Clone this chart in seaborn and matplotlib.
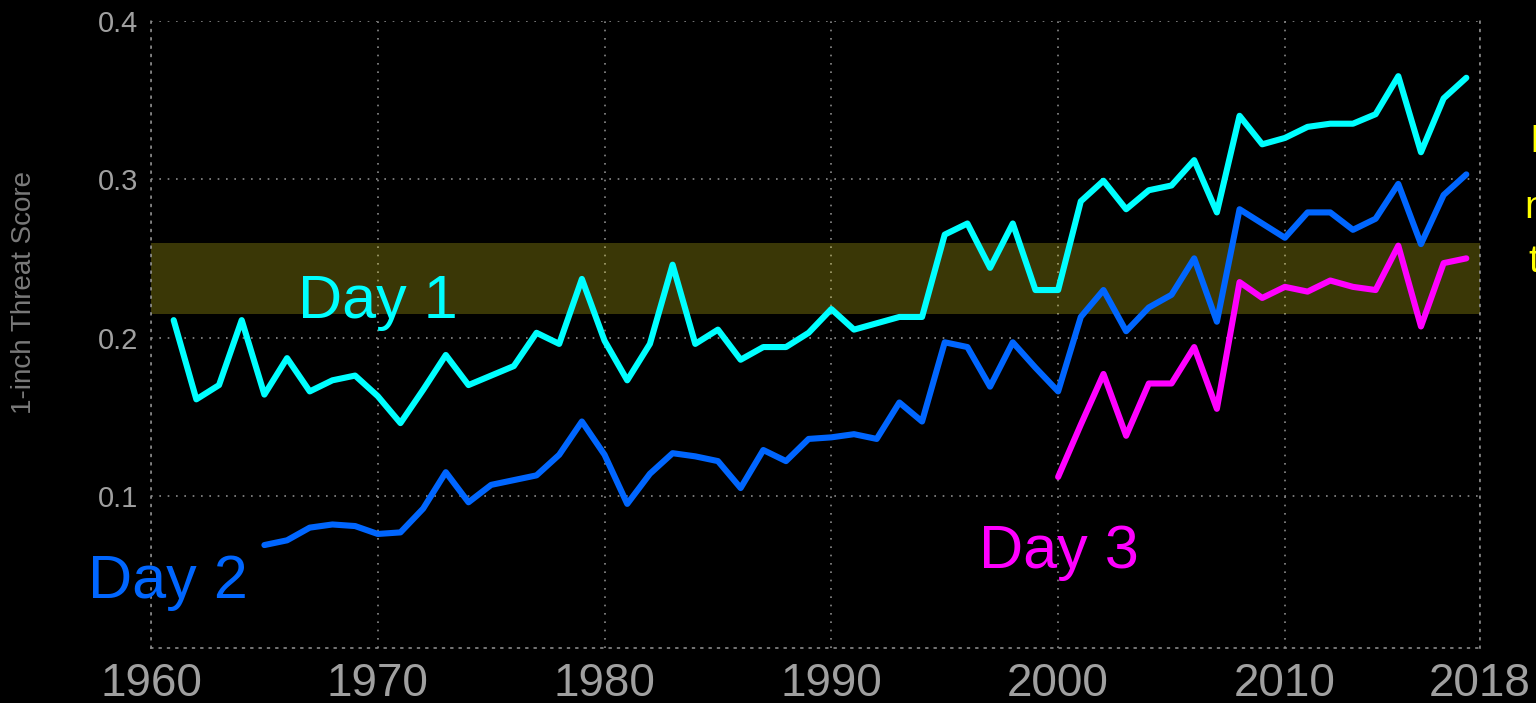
# Threat score trend for 1-inch precipitation, Day 1/2/3 forecasts

import numpy as np
import pandas as pd
import matplotlib
matplotlib.use("Agg")
import matplotlib.pyplot as plt
import seaborn as sns

# DATA

day1_years = list(range(1961, 2019))
day1_ts = [0.211, 0.161, 0.170, 0.211, 0.164, 0.187, 0.166, 0.173, 0.176, 0.163,
           0.146, 0.167, 0.189, 0.170, 0.176, 0.182, 0.203, 0.196, 0.237, 0.198,
           0.173, 0.196, 0.246, 0.196, 0.205, 0.186, 0.194, 0.194, 0.203, 0.218,
           0.205, 0.209, 0.213, 0.213, 0.265, 0.272, 0.244, 0.272, 0.230, 0.230,
           0.286, 0.299, 0.281, 0.293, 0.296, 0.312, 0.279, 0.340, 0.322, 0.326,
           0.333, 0.335, 0.335, 0.341, 0.365, 0.317, 0.351, 0.364]

day2_years = list(range(1965, 2019))
day2_ts = [0.069, 0.072, 0.080, 0.082, 0.081, 0.076, 0.077, 0.092, 0.115, 0.096,
           0.107, 0.110, 0.113, 0.126, 0.147, 0.126, 0.095, 0.114, 0.127, 0.125,
           0.122, 0.105, 0.129, 0.122, 0.136, 0.137, 0.139, 0.136, 0.159, 0.147,
           0.197, 0.194, 0.169, 0.197, 0.181, 0.166, 0.213, 0.230, 0.204, 0.219,
           0.227, 0.250, 0.210, 0.281, 0.272, 0.263, 0.279, 0.279, 0.268, 0.275,
           0.297, 0.259, 0.290, 0.303]

day3_years = list(range(2000, 2019))
day3_ts = [0.112, 0.145, 0.177, 0.138, 0.171, 0.171, 0.194, 0.155, 0.235, 0.225,
           0.232, 0.229, 0.236, 0.232, 0.230, 0.258, 0.207, 0.247, 0.250]

band_low, band_high = 0.215, 0.26

x_ticks = [1960, 1970, 1980, 1990, 2000, 2010, 2018.6]
x_tick_labels = ['1960', '1970', '1980', '1990', '2000', '2010', '2018']
y_ticks = [0.1, 0.2, 0.3, 0.4]
y_tick_labels = ['0.1', '0.2', '0.3', '0.4']

# STYLE

sns.set_style("dark")
plt.rcParams['font.family'] = ['Liberation Sans', 'DejaVu Sans']

fig = plt.figure(figsize=(15.36, 7.03), dpi=100, facecolor='black')
ax = fig.add_axes([0.0983, 0.0782, 0.8652, 0.8923])
ax.set_facecolor('black')

dotted = (0, (1, 4))
grid_col = '#8a8a8a'

# yellow band
ax.axhspan(band_low, band_high, color='#fff01a', alpha=0.232, lw=0, zorder=1.5)

# LINES

series = [
    (day1_years, day1_ts, '#00ffff'),
    (day2_years, day2_ts, '#0066ff'),
    (day3_years, day3_ts, '#ff00ff'),
]
for yrs, vals, col in series:
    sns.lineplot(
        x=yrs,
        y=vals,
        color=col,
        linewidth=4.4,
        ax=ax,
        zorder=3
    )

ax.text(1970, 0.2122, 'Day 1', color='#00ffff', fontsize=44, ha='center', va='baseline')
ax.text(1960.75, 0.0353, 'Day 2', color='#0066ff', fontsize=44, ha='center', va='baseline')
ax.text(2000.05, 0.0543, 'Day 3', color='#ff00ff', fontsize=44, ha='center', va='baseline')

# AXES

ax.set_xlim(1960, 2018.6)
ax.set_ylim(0.004, 0.4)
ax.set_xticks(x_ticks)
ax.set_xticklabels(x_tick_labels)
ax.set_yticks(y_ticks)
ax.set_yticklabels(y_tick_labels)

ax.tick_params(axis='x', length=0, pad=10, labelsize=33, labelcolor='#a0a0a0')
ax.tick_params(axis='y', length=0, pad=9, labelsize=21, labelcolor='#a0a0a0')

ax.grid(True, color=grid_col, linestyle=dotted, linewidth=1.2)
ax.set_axisbelow(True)
for side in ['left', 'bottom', 'right']:
    ax.spines[side].set_visible(True)
    ax.spines[side].set_color(grid_col)
    ax.spines[side].set_linestyle(dotted)
    ax.spines[side].set_linewidth(1.2)
ax.spines['top'].set_visible(False)

ax.set_xlabel('')
ax.set_ylabel('1-inch Threat Score', fontsize=20, color='#7a7a7a')
ax.yaxis.set_label_coords(-0.086, 0.567)

# text cut off at the right edge
fig.text(1529 / 1536, 1 - 152 / 703, 'I', color='#ffff00', fontsize=28, ha='left', va='baseline')
fig.text(1524 / 1536, 1 - 218 / 703, 'n', color='#ffff00', fontsize=28, ha='left', va='baseline')
fig.text(1528 / 1536, 1 - 272 / 703, 't', color='#ffff00', fontsize=28, ha='left', va='baseline')

fig.savefig('out.png', dpi=100, facecolor='black')
